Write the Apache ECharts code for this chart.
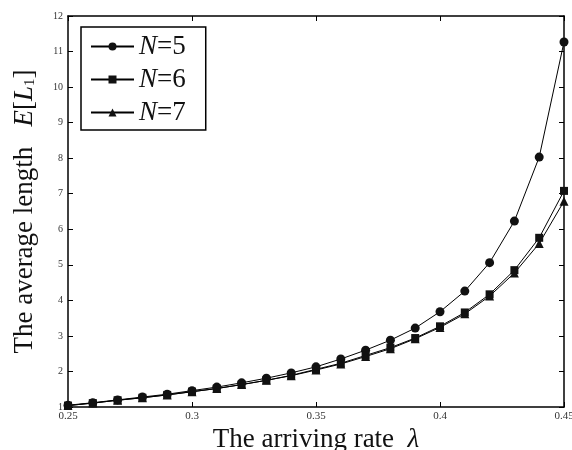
<!DOCTYPE html>
<html><head><meta charset="utf-8">
<script src="https://cdn.jsdelivr.net/npm/echarts@6/dist/echarts.min.js"></script>
<style>html,body{margin:0;padding:0;background:#fff}#c{width:572px;height:450px}</style>
</head><body><div id="c"></div>
<script>
const lambdas = [0.25,0.26,0.27,0.28,0.29,0.30,0.31,0.32,0.33,0.34,0.35,0.36,0.37,0.38,0.39,0.40,0.41,0.42,0.43,0.44,0.45];
const n5 = [1.05,1.12,1.2,1.28,1.36,1.46,1.56,1.68,1.81,1.96,2.13,2.35,2.6,2.88,3.22,3.68,4.26,5.06,6.23,8.03,11.27];
const n6 = [1.04,1.11,1.19,1.26,1.34,1.43,1.52,1.63,1.75,1.89,2.06,2.23,2.45,2.67,2.94,3.27,3.66,4.17,4.85,5.76,7.08];
const n7 = [1.04,1.11,1.19,1.26,1.34,1.43,1.52,1.63,1.75,1.88,2.04,2.21,2.42,2.64,2.92,3.24,3.62,4.12,4.77,5.6,6.79];
const seriesNames = ['N=5','N=6','N=7'];
const xTicks = [0.25,0.3,0.35,0.4,0.45];

const serif = 'Liberation Serif, Times New Roman, serif';
const chart = echarts.init(document.getElementById('c'));
const mk = (name, data, sym, size) => ({
  name, type:'line', data: lambdas.map((x,i)=>[x,data[i]]),
  symbol: sym, symbolSize: size, showSymbol:true,
  lineStyle:{color:'#000',width:1}, itemStyle:{color:'#111'}, z: 3
});
const axisCommon = {
  axisLine:{show:true,lineStyle:{color:'#000',width:1.5}},
  axisTick:{show:true,inside:true,length:5,lineStyle:{color:'#000'}},
  splitLine:{show:false}
};
chart.setOption({
  animation:false,
  backgroundColor:'#fff',
  grid:{left:68,right:8,top:16,bottom:43,outerBoundsMode:'none',containLabel:false},
  legend:{
    left:81, top:27, orient:'vertical', itemGap:6,
    padding:[6,20,4,9],
    borderColor:'#000', borderWidth:1.5, backgroundColor:'#fff',
    itemWidth:43, itemHeight:10,
    data: seriesNames,
    formatter: n => '{i|N}{t|=' + n.split('=')[1] + '}',
    textStyle:{padding:[0,0,0,0],rich:{
      i:{fontFamily:serif,fontStyle:'italic',fontSize:27,color:'#111'},
      t:{fontFamily:serif,fontSize:27,color:'#111'}
    }}
  },
  xAxis:[{
    type:'value', min:0.25, max:0.45, interval:0.05, position:'bottom',
    ...axisCommon,
    axisLabel:{fontFamily:serif,fontSize:11,color:'#333',margin:4,
      formatter:v=>String(+v.toFixed(2))},
    name:'{a|The arriving rate  }{l|λ}', nameLocation:'middle', nameGap:12,
    nameTextStyle:{rich:{
      a:{fontFamily:serif,fontSize:27,color:'#111'},
      l:{fontFamily:serif,fontSize:27,fontStyle:'italic',color:'#111'}
    }}
  },{
    type:'value', min:0.25, max:0.45, interval:0.05, position:'top',
    ...axisCommon, axisLabel:{show:false}
  }],
  yAxis:[{
    type:'value', min:1, max:12, interval:1, position:'left',
    ...axisCommon,
    axisLabel:{fontFamily:serif,fontSize:10,color:'#333',margin:5},
    name:'{a|The average length   }{e|E}{a|[}{e|L}{s|1}{a|]}', nameLocation:'middle', nameGap:30,
    nameTextStyle:{rich:{
      a:{fontFamily:serif,fontSize:27,color:'#111'},
      e:{fontFamily:serif,fontSize:27,fontStyle:'italic',color:'#111'},
      s:{fontFamily:serif,fontSize:15,color:'#111',verticalAlign:'bottom',padding:[12,0,0,0]}
    }}
  },{
    type:'value', min:1, max:12, interval:1, position:'right',
    ...axisCommon, axisLabel:{show:false}
  }],
  series:[
    mk(seriesNames[0], n5, 'circle', 9),
    mk(seriesNames[1], n6, 'rect', 8),
    mk(seriesNames[2], n7, 'triangle', 9)
  ]
});
</script></body></html>
